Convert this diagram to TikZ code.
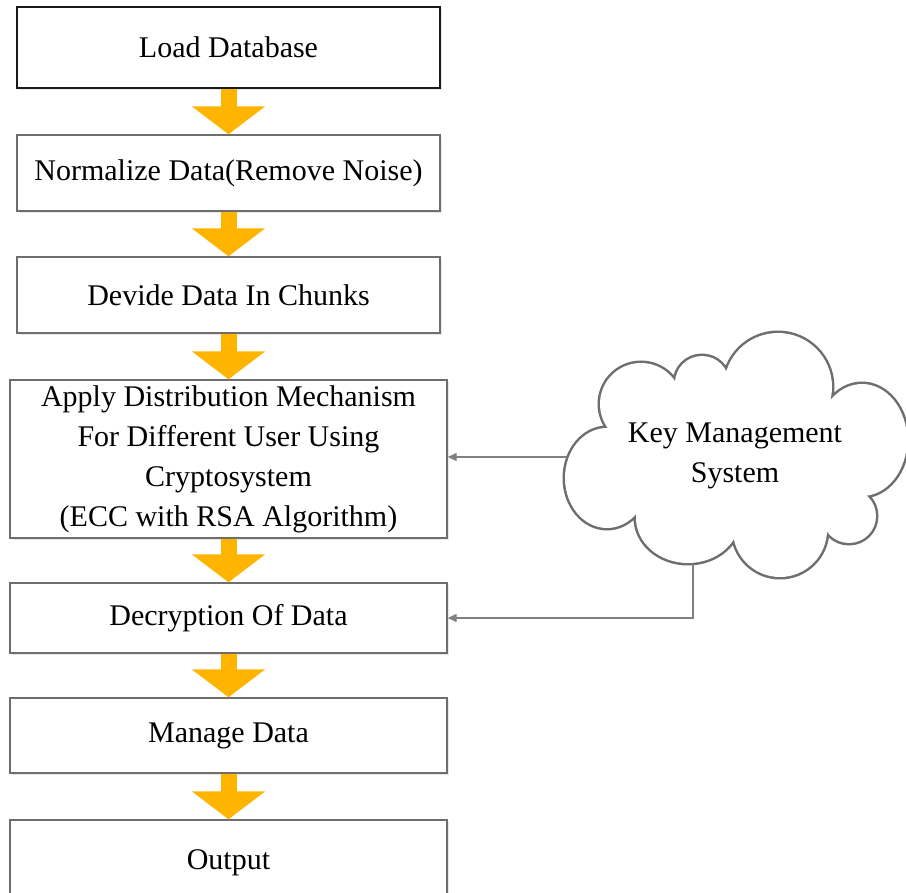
\documentclass[tikz,border=0pt]{standalone}
\usepackage{fontspec}
\setmainfont{Liberation Serif}
\usetikzlibrary{arrows.meta,shadows,calc}
\definecolor{boxgray}{HTML}{6E6E6E}
\definecolor{linkgray}{HTML}{808080}
\definecolor{flow}{HTML}{FFB400}
\begin{document}
\begin{tikzpicture}[x=1pt,y=-1pt,
  font=\fontsize{30}{40}\selectfont,
  stage/.style={draw=boxgray, line width=1.4pt, fill=white, align=center,
    inner sep=0pt, minimum width=437pt,
    drop shadow={opacity=0.18, shadow xshift=2pt, shadow yshift=-2pt}},
  narrow/.style={minimum width=423pt},
  flowarrow/.style={draw=flow, line width=16pt,
    -{Triangle[width=72pt,length=28pt]}},
  link/.style={draw=linkgray, line width=1.3pt,
    -{Triangle[width=8pt,length=9pt]}}]

\useasboundingbox (0,0) rectangle (906,893);
\clip (0,0) rectangle (906,893);

% processing stages
\node[stage, narrow, draw=black!90, line width=1.8pt, minimum height=81pt]
  (load) at (228.5,47.5) {Load Database};
\node[stage, narrow, minimum height=76pt] (norm) at (228.5,173)
  {Normalize Data(Remove Noise)};
\node[stage, narrow, minimum height=76pt] (chunk) at (228.5,295)
  {Devide Data In Chunks};
\node[stage, minimum height=158pt] (dist) at (228.5,459)
  {Apply Distribution Mechanism\\For Different User Using\\Cryptosystem\\(ECC with RSA Algorithm)};
\node[stage, minimum height=70pt] (decrypt) at (228.5,618)
  {Decryption Of Data};
\node[stage, minimum height=75pt] (manage) at (228.5,735.5)
  {Manage Data};
\node[stage, minimum height=90pt] (out) at (228.5,865)
  {\raisebox{10pt}{Output}};

% key management cloud: union of puffs, outlined by stroking wide and
% filling over, with the polygon of puff centres closing the inside
\def\puffs{%
  (641,404) circle (41)
  (702,383) circle (27)
  (778,387) circle (54)
  (862,440) ellipse (45 and 56)
  (849,516) circle (27)
  (780,530) circle (47)
  (688,518) ellipse (52 and 45)
  (607,478) ellipse (42 and 50)}
\draw[boxgray, line width=5pt] \puffs;
\fill[white] \puffs;
\fill[white] (641,404) -- (702,383) -- (778,387) -- (862,440) -- (849,516)
  -- (780,530) -- (688,518) -- (607,478) -- cycle;
\node[align=center, inner sep=0pt] (kms) at (735,456) {Key Management\\System};
\coordinate (kmsleft) at (567,457);
\coordinate (kmsfoot) at (693,564);

% main flow
\foreach \a/\b in {load/norm, norm/chunk, chunk/dist, dist/decrypt,
                   decrypt/manage, manage/out}
  \draw[flowarrow] (\a.south) -- (\b.north);

% key distribution links
\draw[link] (kmsleft) -- (kmsleft -| dist.east);
\draw[link] (kmsfoot) |- (decrypt.east);
\end{tikzpicture}
\end{document}
